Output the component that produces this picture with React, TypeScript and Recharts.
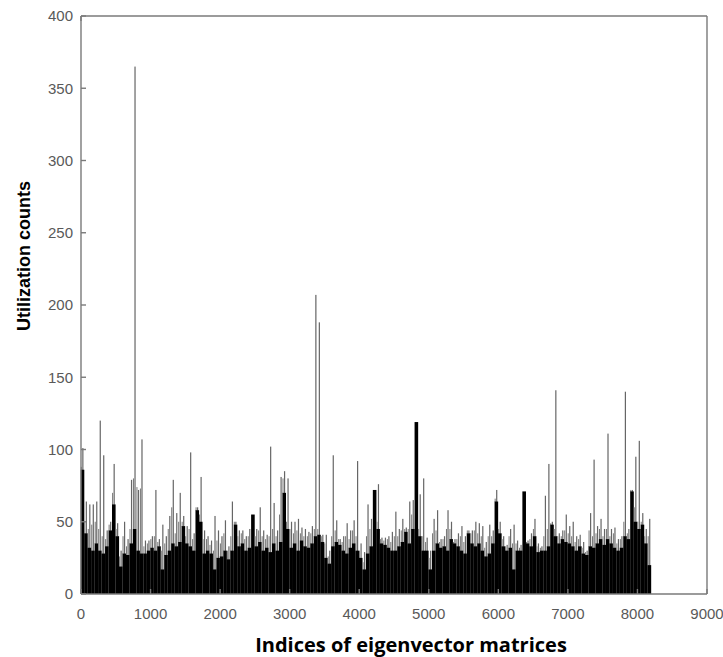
import React from "react";
import { BarChart, Bar, XAxis, YAxis } from "recharts";

// Index bins of 50 eigenvector-matrix indices each (0..8200)
const SLOT = 50;

// Height of the dense (solid black) part in each bin
const floorCounts = [
  86, 42, 32, 30, 35, 30, 28, 33, 44, 62,
  40, 19, 28, 27, 35, 45, 30, 28, 28, 30,
  32, 30, 33, 17, 27, 30, 35, 33, 36, 47,
  35, 33, 30, 58, 50, 28, 30, 28, 17, 25,
  26, 30, 24, 30, 48, 33, 35, 30, 32, 55,
  33, 36, 30, 32, 29, 35, 30, 36, 70, 45,
  32, 35, 30, 37, 33, 32, 35, 40, 41, 36,
  25, 21, 33, 36, 34, 30, 28, 32, 35, 30,
  25, 17, 28, 33, 72, 45, 35, 34, 32, 30,
  30, 33, 36, 43, 35, 45, 119, 40, 30, 30,
  17, 30, 35, 32, 33, 30, 38, 35, 33, 30,
  28, 42, 35, 33, 35, 30, 26, 28, 35, 64,
  42, 33, 30, 32, 17, 30, 30, 71, 35, 33,
  40, 29, 30, 30, 33, 48, 40, 35, 38, 36,
  35, 33, 30, 33, 28, 27, 33, 32, 35, 38,
  34, 38, 35, 32, 30, 32, 40, 38, 71, 50,
  45, 48, 35, 20,
];

// Second-highest count in each bin (the thin grey fringe)
const midCounts = [
  88, 50, 45, 48, 50, 45, 40, 38, 48, 70,
  45, 26, 40, 33, 45, 80, 74, 73, 33, 35,
  38, 40, 36, 30, 35, 45, 60, 42, 50, 50,
  40, 45, 38, 60, 55, 38, 38, 34, 30, 37,
  35, 42, 30, 40, 50, 40, 42, 38, 40, 55,
  40, 44, 40, 38, 40, 45, 40, 55, 80, 50,
  45, 42, 44, 42, 40, 40, 42, 45, 45, 40,
  35, 26, 40, 44, 38, 36, 40, 38, 44, 40,
  30, 22, 40, 45, 72, 50, 38, 37, 38, 36,
  40, 40, 44, 45, 45, 55, 119, 45, 40, 36,
  25, 42, 44, 36, 38, 45, 45, 36, 38, 40,
  36, 44, 42, 44, 42, 40, 32, 40, 40, 66,
  45, 38, 33, 40, 35, 35, 32, 71, 36, 38,
  45, 33, 32, 40, 45, 49, 45, 40, 40, 44,
  42, 40, 36, 38, 32, 29, 44, 40, 42, 45,
  40, 45, 40, 42, 35, 38, 50, 42, 72, 60,
  50, 50, 40, 40,
];

// Highest single utilization count in each bin
const peakCounts = [
  101, 64, 62, 62, 64, 120, 96, 44, 50, 90,
  49, 30, 50, 38, 79, 365, 72, 107, 37, 37,
  40, 72, 38, 48, 40, 54, 79, 56, 70, 54,
  47, 98, 42, 60, 81, 44, 40, 37, 54, 44,
  40, 51, 33, 64, 50, 44, 44, 40, 45, 55,
  45, 60, 44, 41, 102, 63, 44, 81, 85, 80,
  50, 50, 52, 46, 45, 43, 47, 207, 188, 41,
  41, 30, 96, 51, 38, 40, 49, 44, 51, 92,
  35, 29, 62, 52, 72, 76, 39, 39, 40, 43,
  57, 45, 52, 46, 64, 65, 119, 69, 80, 39,
  30, 52, 58, 38, 40, 58, 50, 38, 42, 47,
  40, 44, 44, 50, 49, 47, 36, 48, 44, 72,
  50, 40, 34, 45, 48, 37, 34, 71, 37, 42,
  52, 35, 33, 68, 90, 50, 141, 42, 44, 55,
  47, 50, 40, 41, 36, 30, 56, 93, 47, 52,
  45, 111, 45, 46, 38, 40, 140, 45, 72, 95,
  106, 56, 45, 52,
];

const xTicks = [0, 1000, 2000, 3000, 4000, 5000, 6000, 7000, 8000, 9000];
const yTicks = [0, 50, 100, 150, 200, 250, 300, 350, 400];

const data = floorCounts.map((floor, i) => ({
  idx: i * SLOT + SLOT / 2,
  floor,
  mid: midCounts[i],
  peak: peakCounts[i],
}));

const FRAME = "#7a7a7a";
const TICK_LEN = 5;
const LABEL_STYLE = { fill: "#595959", fontSize: 15, fontFamily: "'Liberation Sans', Arial, sans-serif" };
const X_MARGIN = 14;
const Y_MARGIN = 8;

const SlotShape = (props: any) => {
  const { x, y, width, height } = props;
  const p = props.payload ?? props;
  if (!height || height <= 0) return null;
  const base = y + height;
  const fh = (height * p.floor) / p.peak;
  const mh = (height * p.mid) / p.peak;
  return (
    <g>
      {height - fh > 0.2 && (
        <rect x={x + width * 0.62 - 0.6} y={y} width={1.2} height={height - fh + 0.5} fill="#666" />
      )}
      {mh - fh > 0.2 && (
        <rect x={x + width * 0.1 - 0.5} y={base - mh} width={1} height={mh - fh + 0.5} fill="#777" />
      )}
      <rect x={x - 0.3} y={base - fh} width={width + 0.6} height={fh} fill="#000" />
    </g>
  );
};

const BottomTick = (props: any) => {
  const { x, y, payload } = props;
  const axisY = y - X_MARGIN;
  return (
    <g>
      <line x1={x} x2={x} y1={axisY} y2={axisY - TICK_LEN} stroke={FRAME} strokeWidth={1.4} />
      <text x={x} y={y} dy="0.71em" textAnchor="middle" {...LABEL_STYLE}>
        {payload.value}
      </text>
    </g>
  );
};

const LeftTick = (props: any) => {
  const { x, y, payload } = props;
  const axisX = x + Y_MARGIN;
  return (
    <g>
      <line x1={axisX} x2={axisX + TICK_LEN} y1={y} y2={y} stroke={FRAME} strokeWidth={1.4} />
      <text x={x} y={y} dy="0.355em" textAnchor="end" {...LABEL_STYLE}>
        {payload.value}
      </text>
    </g>
  );
};

const TopTick = (props: any) => {
  const { x, y } = props;
  return <line x1={x} x2={x} y1={y} y2={y + TICK_LEN} stroke={FRAME} strokeWidth={1.4} />;
};

const RightTick = (props: any) => {
  const { x, y } = props;
  return <line x1={x} x2={x - TICK_LEN} y1={y} y2={y} stroke={FRAME} strokeWidth={1.4} />;
};

export default function App() {
  return (
    <div style={{ position: "absolute", left: 0, top: 0, background: "#fff" }}>
      <BarChart
        width={723}
        height={657}
        data={data}
        margin={{ top: 15, right: 15, bottom: 0, left: 0 }}
        barCategoryGap={0}
      >
        <XAxis
          dataKey="idx"
          type="number"
          domain={[0, 9000]}
          ticks={xTicks}
          interval={0}
          height={63}
          tickSize={0}
          tickMargin={X_MARGIN}
          axisLine={{ stroke: FRAME, strokeWidth: 1.4 }}
          tickLine={false}
          tick={BottomTick}
          label={{
            content: () => (
              <text
                x={411}
                y={652}
                textAnchor="middle"
                fontFamily="'Open Sans', 'DejaVu Sans', sans-serif"
                fontWeight={700}
                fontSize={20}
                fill="#000"
              >
                Indices of eigenvector matrices
              </text>
            ),
          }}
        />
        <XAxis
          xAxisId="top"
          orientation="top"
          type="number"
          domain={[0, 9000]}
          ticks={xTicks}
          interval={0}
          height={1}
          tickSize={0}
          tickMargin={0}
          axisLine={{ stroke: FRAME, strokeWidth: 1.4 }}
          tickLine={false}
          tick={TopTick}
        />
        <YAxis
          type="number"
          domain={[0, 400]}
          ticks={yTicks}
          interval={0}
          width={81}
          tickSize={0}
          tickMargin={Y_MARGIN}
          axisLine={{ stroke: FRAME, strokeWidth: 1.4 }}
          tickLine={false}
          tick={LeftTick}
          label={{
            content: () => (
              <text
                x={24}
                y={256}
                transform="rotate(-90 24 256)"
                textAnchor="middle"
                dominantBaseline="central"
                fontFamily="'Liberation Sans', Arial, sans-serif"
                fontWeight={700}
                fontSize={18}
                fill="#000"
              >
                Utilization counts
              </text>
            ),
          }}
        />
        <YAxis
          yAxisId="right"
          orientation="right"
          type="number"
          domain={[0, 400]}
          ticks={yTicks}
          interval={0}
          width={1}
          tickSize={0}
          tickMargin={0}
          axisLine={{ stroke: FRAME, strokeWidth: 1.4 }}
          tickLine={false}
          tick={RightTick}
        />
        <Bar dataKey="peak" isAnimationActive={false} shape={SlotShape} />
      </BarChart>
    </div>
  );
}
